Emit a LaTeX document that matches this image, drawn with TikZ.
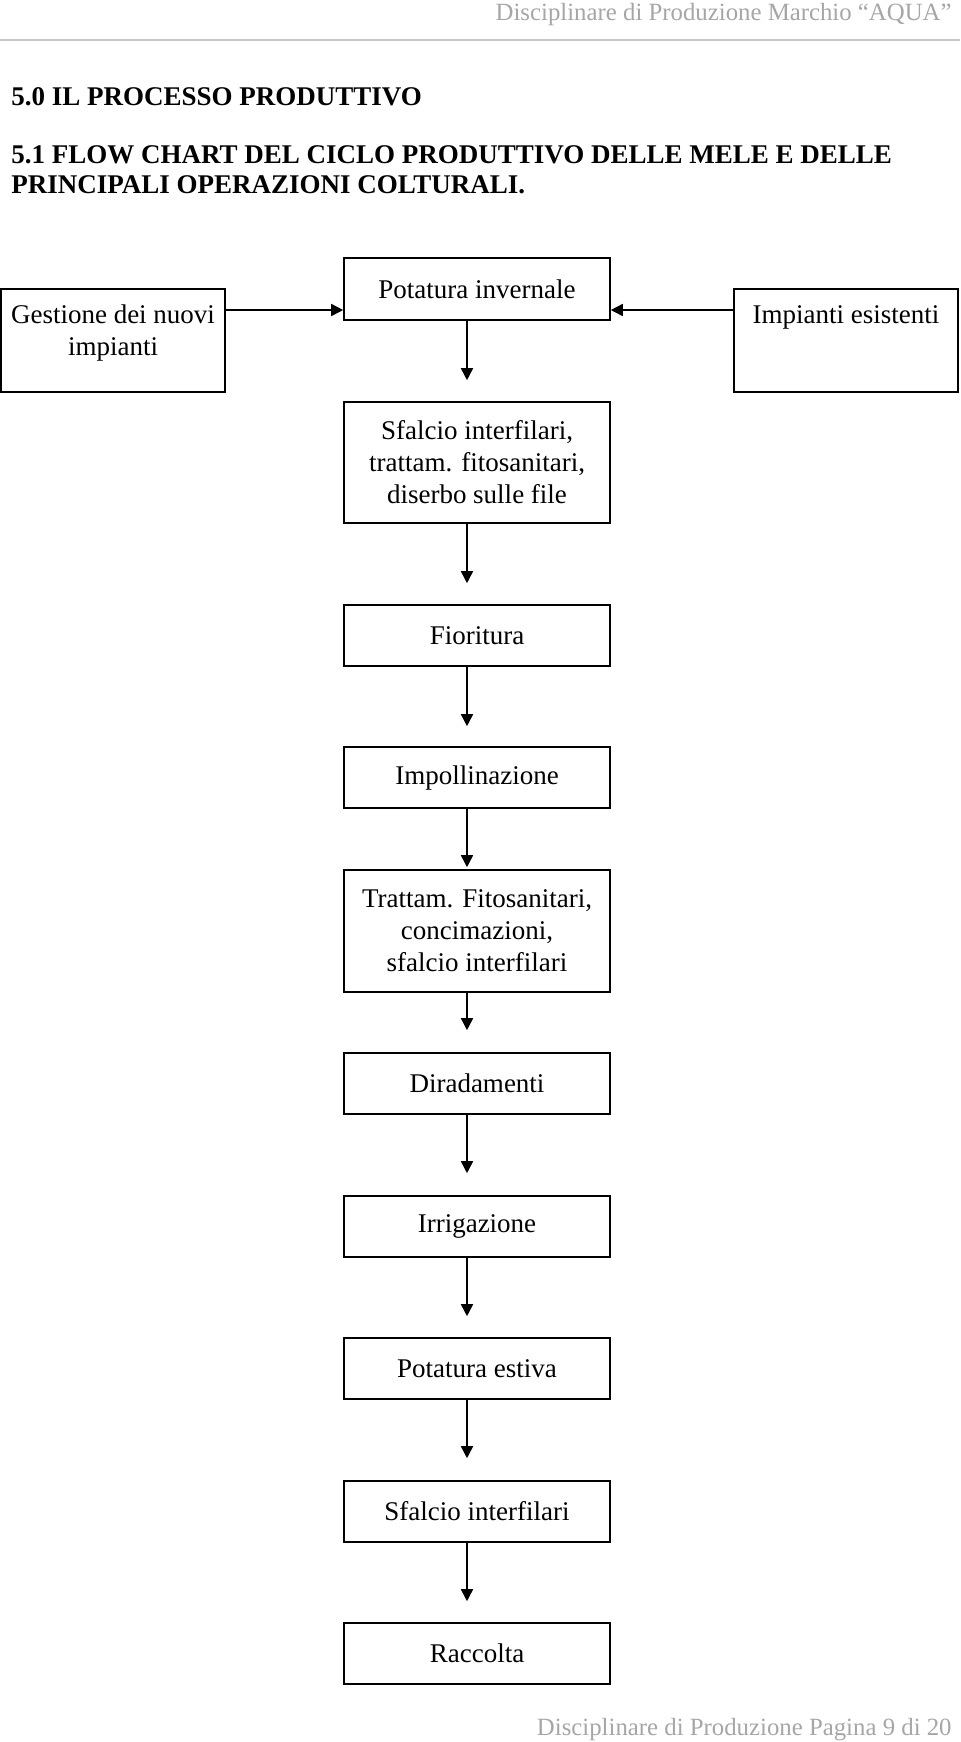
\documentclass[tikz,border=0pt]{standalone}
\usepackage{fontspec}
\setmainfont{Liberation Serif}
\usetikzlibrary{positioning,arrows.meta}

\begin{document}
\begin{tikzpicture}[x=0.5pt,y=-0.5pt,
        stepbox/.style={draw,line width=0.8pt,minimum width=133pt,minimum height=30.5pt,inner sep=2pt,align=center,font=\fontsize{13.5}{16}\selectfont},
        sidebox/.style={draw,line width=0.8pt,minimum width=112pt,minimum height=51.5pt},
        sidetext/.style={inner sep=0pt,align=center,font=\fontsize{13.5}{16}\selectfont},
        flow/.style={line width=0.8pt,-{Triangle[width=6pt,length=6pt]}},
        greytext/.style={inner sep=0pt,text=black!35,font=\fontsize{12.4}{14}\selectfont},
        titletext/.style={inner sep=0pt,align=left,font=\fontsize{13.5}{15}\selectfont\bfseries}]
        \useasboundingbox (0,0) rectangle (960,1742);
        \node[greytext,anchor=base east] (header) at (952,20) {Disciplinare di Produzione Marchio “AQUA”};
        \draw[black!22,line width=1pt] (0,40) -- (960,40);
        \node[titletext,anchor=west] (title) at (11,97) {5.0 IL PROCESSO PRODUTTIVO};
        \node[titletext,anchor=north west] (subtitle) at (11,145) {5.1 FLOW CHART DEL CICLO PRODUTTIVO DELLE MELE E DELLE\\PRINCIPALI OPERAZIONI COLTURALI.};
        \coordinate (axis) at (467,0);
        \coordinate (row) at (0,310);
        \node[sidebox] (nuovi) at (113,340.5) {};
        \node[sidetext] (nuovitext) at (113,333) {Gestione dei nuovi\\impianti};
        \node[sidebox] (esistenti) at (846,340.5) {};
        \node[sidetext] (esistentitext) at (846,317) {Impianti esistenti};
        \node[stepbox,minimum height=31pt] (invernale) at (477,289) {Potatura invernale};
        \node[stepbox,minimum height=60.5pt] (sfalcio) at (477,462.5) {Sfalcio interfilari,\\trattam. fitosanitari,\\diserbo sulle file};
        \node[stepbox] (fioritura) at (477,635.5) {Fioritura};
        \node[stepbox] (impoll) at (477,777.5) {Impollinazione};
        \node[stepbox,minimum height=61pt] (trattam) at (477,931) {Trattam. Fitosanitari,\\concimazioni,\\sfalcio interfilari};
        \node[stepbox] (diradam) at (477,1083.5) {Diradamenti};
        \node[stepbox] (irrig) at (477,1226.5) {Irrigazione};
        \node[stepbox] (estiva) at (477,1368.5) {Potatura estiva};
        \node[stepbox] (interfil) at (477,1511.5) {Sfalcio interfilari};
        \node[stepbox] (raccolta) at (477,1653.5) {Raccolta};
        \draw[flow] (nuovi.east |- row) -- (invernale.west |- row);
        \draw[flow] (esistenti.west |- row) -- (invernale.east |- row);
        \draw[flow,shorten >=10.5pt] (invernale.south -| axis) -- (sfalcio.north -| axis);
        \draw[flow,shorten >=10.5pt] (sfalcio.south -| axis) -- (fioritura.north -| axis);
        \draw[flow,shorten >=10pt] (fioritura.south -| axis) -- (impoll.north -| axis);
        \draw[flow,shorten >=1pt] (impoll.south -| axis) -- (trattam.north -| axis);
        \draw[flow,shorten >=11pt] (trattam.south -| axis) -- (diradam.north -| axis);
        \draw[flow,shorten >=11pt] (diradam.south -| axis) -- (irrig.north -| axis);
        \draw[flow,shorten >=10.5pt] (irrig.south -| axis) -- (estiva.north -| axis);
        \draw[flow,shorten >=11pt] (estiva.south -| axis) -- (interfil.north -| axis);
        \draw[flow,shorten >=10.5pt] (interfil.south -| axis) -- (raccolta.north -| axis);
        \node[greytext,anchor=base east] (footer) at (952,1735) {Disciplinare di Produzione Pagina 9 di 20};
    \end{tikzpicture}
\end{document}
